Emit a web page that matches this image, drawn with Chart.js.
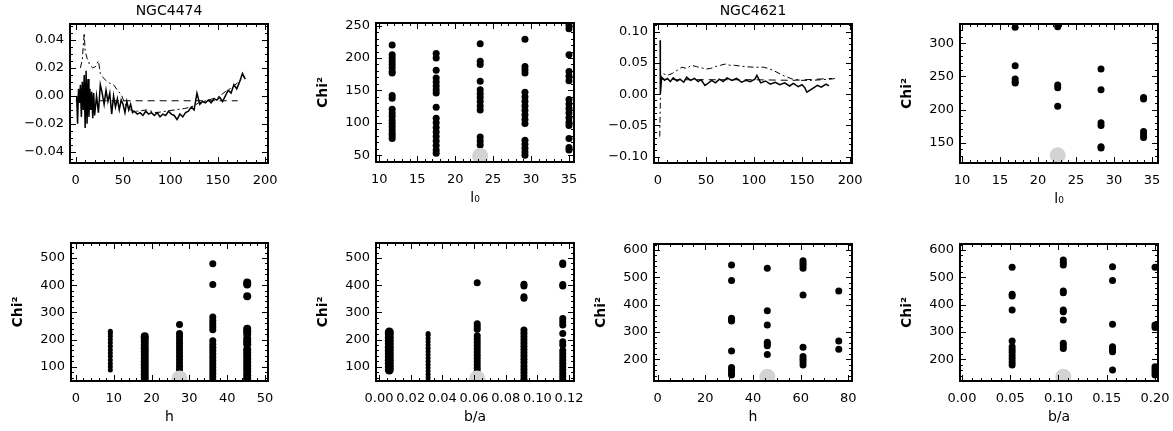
<!DOCTYPE html>
<html>
<head>
<meta charset="utf-8">
<script src="https://cdn.jsdelivr.net/npm/chart.js@4.4.0/dist/chart.umd.min.js"></script>
<style>
  body { margin: 0; background: #fff; }
  #page { position: relative; width: 1173px; height: 431px; overflow: hidden; background: #fff; }
  canvas { position: absolute; }
</style>
</head>
<body>
<div id="page"></div>
<script>
// ---- NGC4474 residual profiles (top left) ----
const n4474SolidX = [1,2,3,4,5,6,7,8,9,10,11,12,13,14,15,16,17,18,19,20,22,24,26,28,30,32,34,36,38,40,42,44,46,48,50,52,54,56,58,60,62,65,68,71,74,77,80,83,86,89,92,95,98,101,104,107,110,113,116,119,122,125,128,131,134,137,140,143,146,149,152,155,158,161,164,167,170,173,176,179];
const n4474SolidY = [0.000,-0.020,0.005,-0.005,0.008,-0.015,0.010,-0.010,0.015,-0.023,0.018,-0.020,0.012,-0.015,0.005,-0.010,0.003,-0.016,0.002,-0.014,
  0.000,-0.012,0.008,0.002,-0.006,0.004,-0.004,0.002,-0.013,0.000,-0.008,-0.002,-0.010,-0.003,-0.006,-0.012,-0.004,-0.010,-0.006,-0.012,
  -0.011,-0.013,-0.012,-0.014,-0.011,-0.013,-0.012,-0.014,-0.012,-0.015,-0.013,-0.014,-0.011,-0.013,-0.014,-0.017,-0.013,-0.015,-0.012,-0.011,
  -0.008,-0.010,0.002,-0.006,-0.004,-0.005,-0.003,-0.005,-0.002,-0.003,-0.001,-0.004,0.000,0.004,0.002,0.008,0.005,0.010,0.016,0.012];
const n4474DashDotX = [5,7,9,10,12,15,18,21,24,26,29,32,36,40,44,48,51,54,58,65,75,85,95,105,115,122,130,140,150,158,165,172,178];
const n4474DashDotY = [0.020,0.026,0.045,0.032,0.027,0.022,0.020,0.021,0.025,0.016,0.013,0.011,0.009,0.008,0.004,0.001,-0.004,-0.008,-0.010,-0.011,
  -0.010,-0.012,-0.011,-0.010,-0.009,-0.008,-0.005,-0.003,-0.001,0.003,0.006,0.010,0.014];
const n4474DashedX = [0, 171];
const n4474DashedY = [-0.0035, -0.0035];

// ---- NGC4621 residual profiles (top, third) ----
const n4621SolidX = [2.4,2.6,4,7,10,13,16,20,23,27,30,34,38,42,45,49,52,56,60,64,68,72,77,82,87,92,96,101,103,107,112,117,122,127,132,137,141,146,150,153,155,158,162,166,170,175,178];
const n4621SolidY = [0.086,0.000,0.027,0.022,0.025,0.020,0.026,0.021,0.024,0.019,0.027,0.022,0.025,0.020,0.023,0.014,0.017,0.022,0.018,0.024,
  0.020,0.026,0.022,0.025,0.019,0.022,0.020,0.024,0.030,0.018,0.021,0.016,0.019,0.015,0.018,0.013,0.017,0.012,0.015,0.010,
  0.003,0.006,0.010,0.014,0.011,0.016,0.013];
const n4621DashDotX = [2,3,5,10,15,20,25,30,35,40,45,50,55,60,65,70,75,80,90,100,110,115,120,125,130,135,140,150,160,170,180,185];
const n4621DashDotY = [-0.068,0.030,0.033,0.030,0.033,0.038,0.043,0.041,0.046,0.044,0.042,0.040,0.041,0.044,0.046,0.048,0.046,0.046,0.044,0.043,
  0.043,0.041,0.038,0.034,0.030,0.027,0.024,0.022,0.022,0.023,0.024,0.025];
const n4621DashedX = [3, 20, 60, 100, 140, 181];
const n4621DashedY = [0.024, 0.023, 0.023, 0.023, 0.022, 0.025];

// ---- Chi^2 grids: NGC4474 ----
const l0Cols4474 = [11.7, 17.5, 23.3, 29.2, 35];
const chiL0_4474 = [
  [220, 205, 200, 195, 190, 185, 179, 177, 142, 138, 121, 115, 110, 104, 99, 94, 89, 84, 80, 76],
  [207, 200, 181, 169, 163, 157, 151, 146, 124, 107, 100, 93, 86, 79, 72, 65, 58, 53],
  [222, 195, 190, 164, 151, 145, 139, 133, 126, 120, 78, 72, 66],
  [229, 187, 182, 177, 147, 140, 133, 126, 119, 112, 105, 99, 73, 67, 61, 55, 50],
  [250, 245, 205, 179, 172, 165, 136, 129, 122, 115, 108, 101, 96, 76, 62, 58],
];
const bestL0_4474 = [23.3, 49];

const hCols4474 = [9.1, 18.2, 27.4, 36.2, 45.3];
const chiH_4474 = [
  [88, 100, 112, 125, 138, 150, 162, 175, 188, 200, 212, 222, 230],
  [48, 60, 72, 84, 96, 108, 120, 132, 144, 156, 168, 180, 192, 204, 212],
  [255, 222, 210, 198, 186, 174, 162, 150, 138, 126, 114, 102, 90, 78, 66, 54, 48],
  [479, 402, 283, 270, 258, 247, 236, 195, 183, 171, 159, 147, 135, 123, 111, 99, 87, 75, 63, 51],
  [410, 402, 359, 240, 230, 220, 204, 193, 183, 163, 153, 141, 129, 117, 105, 93, 81, 69, 57, 48],
];
const bestH_4474 = [27.4, 57];

const baCols4474 = [0.0065, 0.031, 0.062, 0.0915, 0.116];
const chiBA_4474 = [
  [88, 100, 112, 124, 136, 148, 160, 172, 184, 196, 208, 220, 228],
  [48, 60, 72, 84, 96, 108, 120, 132, 144, 156, 168, 180, 192, 204, 216, 222],
  [409, 258, 248, 238, 214, 202, 190, 178, 166, 154, 142, 130, 118, 106, 94, 82, 70, 58, 48],
  [403, 397, 357, 352, 235, 223, 211, 199, 187, 175, 163, 151, 139, 127, 115, 103, 91, 79, 67, 55, 48],
  [481, 476, 402, 397, 277, 265, 253, 222, 192, 180, 160, 148, 136, 124, 112, 100, 88, 76, 64, 52],
];
const bestBA_4474 = [0.062, 57];

// ---- Chi^2 grids: NGC4621 ----
const l0Cols4621 = [17, 22.6, 28.3, 33.9];
const chiL0_4621 = [
  [324, 266, 246, 242, 240],
  [325, 237, 233, 205],
  [261, 230, 180, 176, 144, 142],
  [218, 216, 167, 162, 158],
];
const bestL0_4621 = [22.6, 131];

const hCols4621 = [31, 46, 61, 76];
const chiH_4621 = [
  [545, 488, 350, 345, 340, 230, 170, 160, 150, 143],
  [533, 378, 326, 262, 256, 250, 218],
  [561, 552, 543, 533, 435, 244, 210, 200, 190, 179],
  [450, 267, 237],
];
const bestH_4621 = [46, 136];

const baCols4621 = [0.052, 0.105, 0.156, 0.2];
const chiBA_4621 = [
  [537, 438, 432, 380, 267, 246, 235, 225, 213, 202, 190, 179],
  [563, 554, 545, 450, 444, 380, 374, 344, 259, 250, 240],
  [539, 488, 328, 246, 237, 228, 161],
  [537, 326, 316, 173, 163, 153, 143],
];
const bestBA_4621 = [0.105, 136];

// ---- tick labels ----
const ticksRadius = [0, 50, 100, 150, 200];
const ticksRes4474 = [-0.04, -0.02, 0, 0.02, 0.04];
const ticksRes4621 = [-0.1, -0.05, 0, 0.05, 0.1];
const ticksL0 = [10, 15, 20, 25, 30, 35];
const ticksChiL0_4474 = [50, 100, 150, 200, 250];
const ticksChiL0_4621 = [150, 200, 250, 300];
const ticksH4474 = [0, 10, 20, 30, 40, 50];
const ticksH4621 = [0, 20, 40, 60, 80];
const ticksBA4474 = [0, 0.02, 0.04, 0.06, 0.08, 0.10, 0.12];
const ticksBA4621 = [0, 0.05, 0.10, 0.15, 0.20];
const ticksChi4474 = [100, 200, 300, 400, 500];
const ticksChi4621 = [200, 300, 400, 500, 600];

Chart.defaults.font.family = "'DejaVu Sans', sans-serif";
Chart.defaults.font.size = 13;
Chart.defaults.color = '#000';

const page = document.getElementById('page');
const PAD_RIGHT = 30;

const pts = (xs, ys) => xs.map((x, i) => ({ x, y: ys[i] }));
const fmt = (v, dec) => v.toFixed(dec).replace('-', '\u2212');

// IDL style frame: box with inward major and minor ticks on every side
const framePlugin = {
  id: 'frame',
  afterDraw(chart, args, opts) {
    const { ctx, chartArea: a, scales } = chart;
    ctx.save();
    ctx.strokeStyle = '#000';
    ctx.lineWidth = 1;
    ctx.beginPath();
    ['x', 'y'].forEach((id) => {
      const s = scales[id];
      const step = opts[id];
      const marks = [];
      for (let k = Math.ceil(s.min / step - 1e-6); k * step <= s.max + 1e-9; k++) marks.push([k * step, 3]);
      s.ticks.forEach((t) => marks.push([t.value, 6]));
      marks.forEach(([v, len]) => {
        const p = Math.round(s.getPixelForValue(v)) + 0.5;
        if (id === 'x') {
          ctx.moveTo(p, a.bottom); ctx.lineTo(p, a.bottom - len);
          ctx.moveTo(p, a.top); ctx.lineTo(p, a.top + len);
        } else {
          ctx.moveTo(a.left, p); ctx.lineTo(a.left + len, p);
          ctx.moveTo(a.right, p); ctx.lineTo(a.right - len, p);
        }
      });
    });
    ctx.stroke();
    ctx.lineWidth = 2;
    ctx.strokeRect(a.left, a.top, a.right - a.left, a.bottom - a.top);
    ctx.restore();
  },
};

const lineSet = (xs, ys, dash, width) => ({
  data: pts(xs, ys),
  showLine: true,
  borderColor: '#000',
  borderWidth: width || 1,
  borderDash: dash,
  pointRadius: 0,
  tension: 0,
  clip: 0,
});

const colSets = (xs, cols, radii) =>
  cols.map((ys, i) => ({
    data: ys.map((y) => ({ x: xs[i], y })),
    pointRadius: radii ? radii[i] : 3.5,
    pointStyle: 'circle',
    backgroundColor: '#000',
    borderWidth: 0,
    clip: 0,
  }));

const bestSet = (p) => ({
  data: [{ x: p[0], y: p[1] }],
  pointRadius: 8,
  backgroundColor: '#d3d3d3',
  borderWidth: 0,
  clip: 0,
});

const makePanel = (box, p) => {
  const canvas = document.createElement('canvas');
  const w = box.R - box.L + 70 + PAD_RIGHT;
  const h = box.B - box.T + 76;
  canvas.width = w;
  canvas.height = h;
  canvas.style.left = box.L - 70 + 'px';
  canvas.style.top = box.T - 28 + 'px';
  canvas.style.width = w + 'px';
  canvas.style.height = h + 'px';
  page.appendChild(canvas);

  new Chart(canvas, {
    type: 'scatter',
    plugins: [framePlugin],
    data: { datasets: p.datasets },
    options: {
      responsive: false,
      animation: false,
      events: [],
      layout: { padding: { top: p.title ? 0 : 28, right: PAD_RIGHT, left: 0, bottom: 0 } },
      plugins: {
        legend: { display: false },
        tooltip: { enabled: false },
        title: {
          display: !!p.title,
          text: p.title || '',
          fullSize: false,
          font: { size: 14, weight: 'normal' },
          padding: { top: 7, bottom: 4.2 },
        },
        frame: { x: p.xMinor, y: p.yMinor },
      },
      scales: {
        x: {
          type: 'linear',
          min: p.xRange[0],
          max: p.xRange[1],
          grid: { display: false, drawTicks: false },
          border: { display: false },
          afterBuildTicks: (s) => { s.ticks = p.xTicks.map((value) => ({ value })); },
          afterFit: (s) => { s.height = 48; },
          ticks: { autoSkip: false, maxRotation: 0, minRotation: 0, padding: 10, callback: (v) => fmt(v, p.xDec) },
          title: { display: !!p.xTitle, text: p.xTitle || '', font: { size: 14 }, padding: { top: 0, bottom: 3 } },
        },
        y: {
          type: 'linear',
          min: p.yRange[0],
          max: p.yRange[1],
          grid: { display: false, drawTicks: false },
          border: { display: false },
          afterBuildTicks: (s) => { s.ticks = p.yTicks.map((value) => ({ value })); },
          afterFit: (s) => { s.width = 70; },
          ticks: { autoSkip: false, padding: 6, callback: (v) => fmt(v, p.yDec) },
          title: { display: !!p.yTitle, text: p.yTitle || '', font: { size: 14, weight: 'bold' }, padding: { top: 9, bottom: 0 } },
        },
      },
    },
  });
};

// top row
makePanel({ L: 70, T: 24, R: 268, B: 163 }, {
  title: 'NGC4474',
  datasets: [
    lineSet(n4474SolidX, n4474SolidY, [], 1.5),
    lineSet(n4474DashDotX, n4474DashDotY, [6, 3, 2, 3]),
    lineSet(n4474DashedX, n4474DashedY, [7, 5]),
  ],
  xRange: [-6, 203], yRange: [-0.048, 0.0514],
  xTicks: ticksRadius, yTicks: ticksRes4474, xDec: 0, yDec: 2, xMinor: 10, yMinor: 0.005,
});

makePanel({ L: 376, T: 23, R: 574, B: 162 }, {
  datasets: [bestSet(bestL0_4474), ...colSets(l0Cols4474, chiL0_4474)],
  xRange: [9.57, 35.66], yRange: [39.6, 254],
  xTicks: ticksL0, yTicks: ticksChiL0_4474, xDec: 0, yDec: 0, xMinor: 1, yMinor: 10,
  xTitle: 'l\u2080', yTitle: 'Chi\u00b2',
});

makePanel({ L: 654, T: 24, R: 852, B: 163 }, {
  title: 'NGC4621',
  datasets: [
    lineSet(n4621SolidX, n4621SolidY, [], 1.5),
    lineSet(n4621DashDotX, n4621DashDotY, [6, 3, 2, 3]),
    lineSet(n4621DashedX, n4621DashedY, [7, 5]),
  ],
  xRange: [-4, 202], yRange: [-0.11, 0.112],
  xTicks: ticksRadius, yTicks: ticksRes4621, xDec: 0, yDec: 2, xMinor: 10, yMinor: 0.01,
});

makePanel({ L: 960, T: 24, R: 1158, B: 163 }, {
  datasets: [bestSet(bestL0_4621), ...colSets(l0Cols4621, chiL0_4621)],
  xRange: [9.74, 35.8], yRange: [119.4, 329],
  xTicks: ticksL0, yTicks: ticksChiL0_4621, xDec: 0, yDec: 0, xMinor: 1, yMinor: 10,
  xTitle: 'l\u2080', yTitle: 'Chi\u00b2',
});

// bottom row
makePanel({ L: 71, T: 243, R: 268, B: 381 }, {
  datasets: [bestSet(bestH_4474), ...colSets(hCols4474, chiH_4474, [2.5, 4, 3.5, 3.5, 4])],
  xRange: [-1.3, 50.8], yRange: [47.4, 555],
  xTicks: ticksH4474, yTicks: ticksChi4474, xDec: 0, yDec: 0, xMinor: 2, yMinor: 20,
  xTitle: 'h', yTitle: 'Chi\u00b2',
});

makePanel({ L: 376, T: 243, R: 574, B: 381 }, {
  datasets: [bestSet(bestBA_4474), ...colSets(baCols4474, chiBA_4474, [4.5, 2.5, 3.5, 3.5, 3.5])],
  xRange: [-0.0019, 0.1231], yRange: [47.4, 555],
  xTicks: ticksBA4474, yTicks: ticksChi4474, xDec: 2, yDec: 0, xMinor: 0.005, yMinor: 20,
  xTitle: 'b/a', yTitle: 'Chi\u00b2',
});

makePanel({ L: 654, T: 244, R: 852, B: 381 }, {
  datasets: [bestSet(bestH_4621), ...colSets(hCols4621, chiH_4621)],
  xRange: [-1.55, 81.55], yRange: [120.6, 622],
  xTicks: ticksH4621, yTicks: ticksChi4621, xDec: 0, yDec: 0, xMinor: 5, yMinor: 20,
  xTitle: 'h', yTitle: 'Chi\u00b2',
});

makePanel({ L: 960, T: 244, R: 1158, B: 381 }, {
  datasets: [bestSet(bestBA_4621), ...colSets(baCols4621, chiBA_4621)],
  xRange: [-0.002, 0.2031], yRange: [120.6, 622],
  xTicks: ticksBA4621, yTicks: ticksChi4621, xDec: 2, yDec: 0, xMinor: 0.01, yMinor: 20,
  xTitle: 'b/a', yTitle: 'Chi\u00b2',
});
</script>
</body>
</html>
